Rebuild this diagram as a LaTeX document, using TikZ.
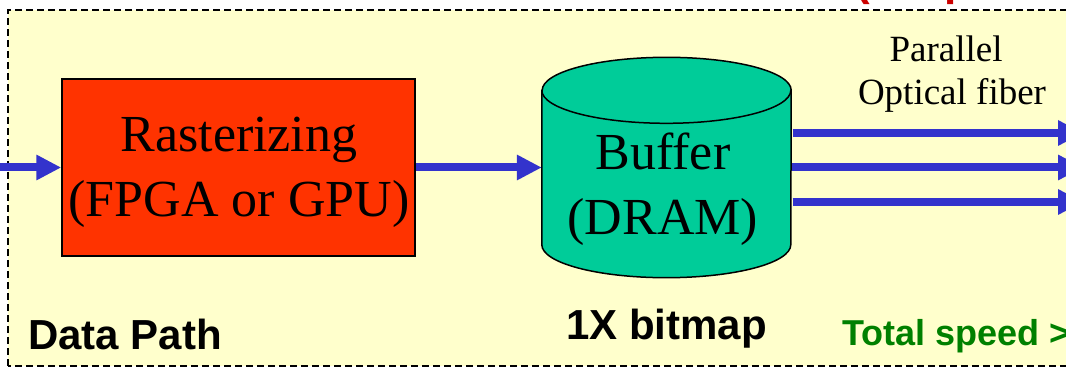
\documentclass[tikz,border=0pt]{standalone}
\usepackage{fontspec}
\setmainfont{Liberation Serif}
\setsansfont{Liberation Sans}
\usetikzlibrary{arrows.meta}
\definecolor{panel}{HTML}{FFFFCC}
\definecolor{rastred}{HTML}{FF3300}
\definecolor{bufgreen}{HTML}{00CC99}
\definecolor{flowblue}{HTML}{3333CC}
\definecolor{speedgreen}{HTML}{008000}
\definecolor{notered}{HTML}{CC0000}
\begin{document}
\begin{tikzpicture}[x=1pt,y=1pt,
  flow/.style={draw=flowblue, line width=8pt, -{Triangle[length=25pt,width=24pt]}},
  serifbig/.style={font=\fontsize{52}{65}\selectfont, align=center, inner sep=0pt},
  serifsmall/.style={anchor=base, font=\fontsize{37}{43}\selectfont, inner sep=0pt},
  boldlabel/.style={anchor=base west, font=\sffamily\bfseries\fontsize{42}{50}\selectfont, inner sep=0pt},
  outline/.style={draw=black, line width=1.5pt}]
\useasboundingbox (0,0) rectangle (1066,370);
\fill[white] (0,0) rectangle (1066,370);

% red heading fragments hanging down from above the panel
\node[anchor=base west, text=notered, inner sep=0pt,
      font=\sffamily\bfseries\fontsize{44}{50}\selectfont] (hl) at (855,374) {(};
\node[anchor=base west, text=notered, inner sep=0pt,
      font=\sffamily\bfseries\fontsize{44}{50}\selectfont] (hp) at (944,374) {p};

% dashed panel
\draw[fill=panel, dash pattern=on 7pt off 4pt, line width=1.6pt] (8,4) rectangle (1100,360);

% rasterizer block
\node[outline, fill=rastred, minimum width=353pt, minimum height=177pt, inner sep=0pt] (rast) at (238.5,202.5) {};
\node[serifbig] (rasttext) at (239,198) {Rasterizing\\(FPGA or GPU)};

% buffer cylinder
\node[minimum width=249pt, minimum height=154pt, inner sep=0pt] (buf) at (666.5,202.5) {};
\draw[outline, fill=bufgreen] (buf.north west) -- (buf.south west)
  arc[start angle=180, end angle=360, x radius=124.5, y radius=33]
  -- (buf.north east)
  arc[start angle=0, end angle=180, x radius=124.5, y radius=33] -- cycle;
\draw[outline] (buf.north west) arc[start angle=180, end angle=360, x radius=124.5, y radius=33];
\node[serifbig] (buftext) at (663,181) {Buffer\\(DRAM)};

% data flow
\coordinate (src) at (-4,202.5);
\draw[flow] (src) -- (rast.west);
\draw[flow] (rast.east) -- (buf.west);
\coordinate (o1) at (1083,237);
\coordinate (o2) at (1083,202.5);
\coordinate (o3) at (1083,168);
\draw[flow] ([xshift=1.5pt]buf.east |- o1) -- (o1);
\draw[flow] ([xshift=0.5pt]buf.east |- o2) -- (o2);
\draw[flow] ([xshift=1.5pt]buf.east |- o3) -- (o3);

\node[serifsmall] (par1) at (946,308) {Parallel};
\node[serifsmall] (par2) at (952,265) {Optical fiber};

% captions
\node[boldlabel] (dp) at (28,21) {Data Path};
\node[boldlabel] (bm) at (566,31) {1X bitmap};
\node[anchor=base west, text=speedgreen, inner sep=0pt,
      font=\sffamily\bfseries\fontsize{36}{42}\selectfont] (ts) at (842,25) {Total speed >};
\end{tikzpicture}
\end{document}
